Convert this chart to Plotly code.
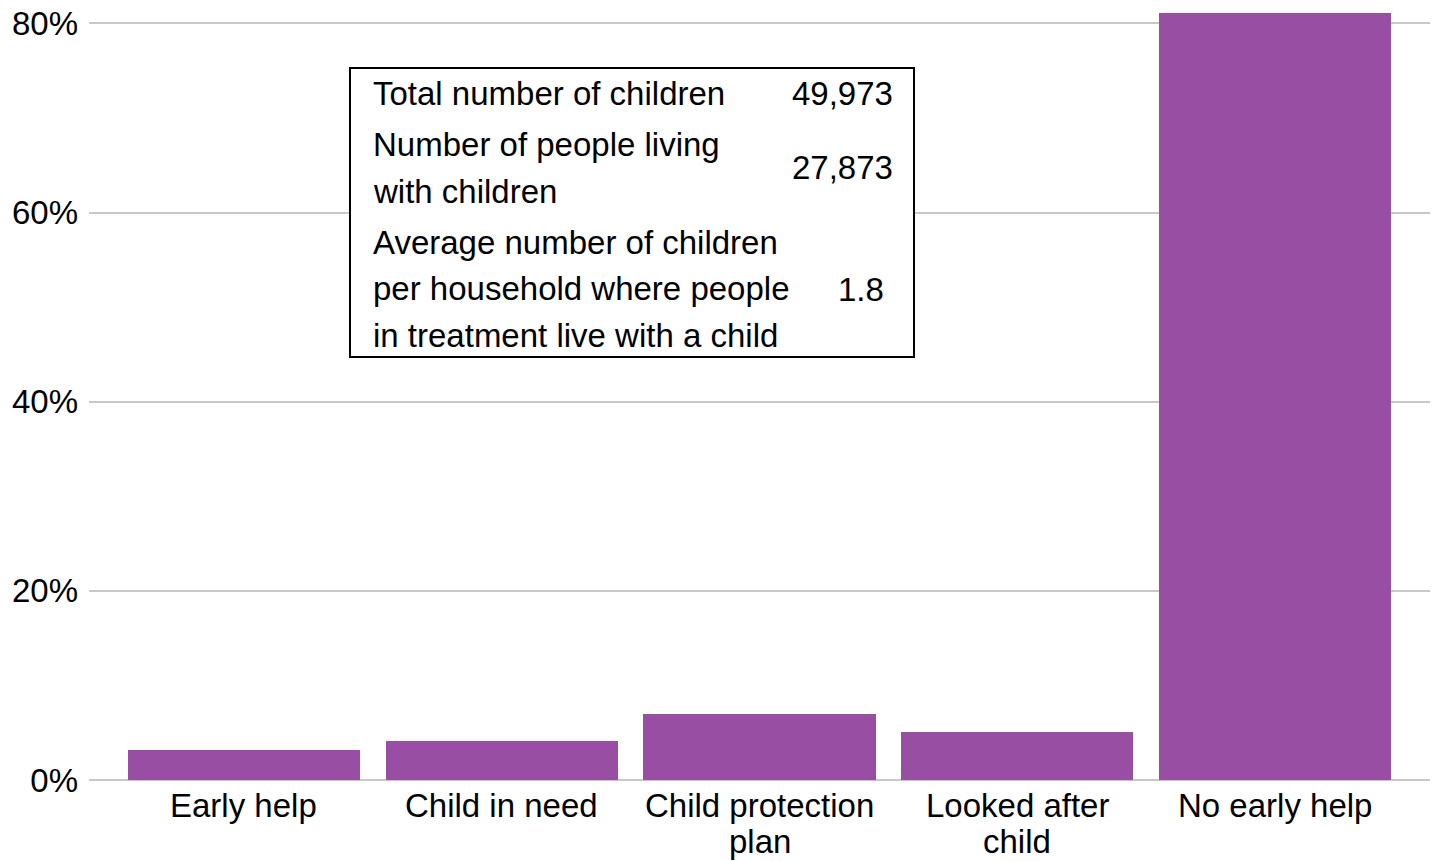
import plotly.graph_objects as go

# ---- data ----
categories = ["Early help", "Child in need", "Child protection plan", "Looked after child", "No early help"]
category_label_lines = [["Early help"], ["Child in need"], ["Child protection", "plan"],
                        ["Looked after", "child"], ["No early help"]]
values = [3.2, 4.1, 7.0, 5.1, 81.1]
y_ticks = [0, 20, 40, 60, 80]
y_tick_labels = ["0%", "20%", "40%", "60%", "80%"]

table_label_lines = [
    ["Total number of children"],
    ["Number of people living", "with children"],
    ["Average number of children", "per household where people", "in treatment live with a child"],
]
table_values = ["49,973", "27,873", "1.8"]

# ---- layout constants (pixels) ----
W, H = 1439, 861
ML, MR, MT, MB = 89, 9, 0, 76
PW, PH = W - ML - MR, H - MT - MB
FONT = "Liberation Sans, Arial, sans-serif"
FS = 33
PURPLE = "#984EA3"


def px(x):
    return (x - ML) / PW


def py(y):
    return (MT + PH - y) / PH


fig = go.Figure(go.Bar(
    x=list(range(len(categories))),
    y=values,
    width=0.9,
    marker=dict(color=PURPLE, line=dict(width=0)),
    hovertext=categories,
))

# white vertical gaps at category centres (as in the source's grid)
shapes = []
for i in range(len(categories)):
    shapes.append(dict(type="line", xref="x", yref="paper", x0=i, x1=i, y0=0, y1=1,
                       line=dict(color="white", width=1.5), layer="between"))

# table box
shapes.append(dict(type="rect", xref="paper", yref="paper",
                   x0=px(350), x1=px(914), y0=py(357), y1=py(68),
                   line=dict(color="black", width=2), fillcolor="white", layer="above"))

annotations = []
row_starts = [94, 145, 242]
line_gap = 46.5
value_y = [94, 168, 289]
value_right = [895, 895, 886]
for r, lines in enumerate(table_label_lines):
    for k, ln in enumerate(lines):
        annotations.append(dict(text=ln, xref="paper", yref="paper",
                                x=px(371), y=py(row_starts[r] + k * line_gap),
                                xanchor="left", yanchor="middle", showarrow=False,
                                font=dict(family=FONT, size=FS, color="black")))
    annotations.append(dict(text=table_values[r], xref="paper", yref="paper",
                            x=px(value_right[r]), y=py(value_y[r]),
                            xanchor="right", yanchor="middle", showarrow=False,
                            font=dict(family=FONT, size=FS, color="black")))

# category labels (two-line labels need tighter line spacing than tick labels allow)
for i, lines in enumerate(category_label_lines):
    for k, ln in enumerate(lines):
        annotations.append(dict(text=ln, xref="x", yref="paper",
                                x=i, y=py(805 + k * 36),
                                xanchor="center", yanchor="middle", showarrow=False,
                                font=dict(family=FONT, size=FS, color="black")))

fig.update_layout(
    width=W, height=H,
    margin=dict(l=ML, r=MR, t=MT, b=MB, pad=0),
    paper_bgcolor="white", plot_bgcolor="white",
    showlegend=False,
    bargap=0,
    font=dict(family=FONT, size=FS, color="black"),
    shapes=shapes,
    annotations=annotations,
    xaxis=dict(
        range=[-0.6, len(categories) - 0.4],
        tickmode="array", tickvals=list(range(len(categories))),
        showticklabels=False,
        showgrid=False, zeroline=False, showline=False, ticks="",
        automargin=False,
    ),
    yaxis=dict(
        range=[-0.53, 82.47],
        tickmode="array", tickvals=y_ticks, ticktext=y_tick_labels,
        showgrid=True, gridcolor="#c8c8c8", gridwidth=1.5,
        zeroline=False, showline=False, ticks="",
        tickfont=dict(family=FONT, size=FS, color="black"),
        ticklabelstandoff=10,
        automargin=False,
    ),
)

fig.write_html(
    "out.html",
    config={"displayModeBar": False},
    post_script="document.body.style.margin='0';document.body.style.overflow='hidden';",
)
